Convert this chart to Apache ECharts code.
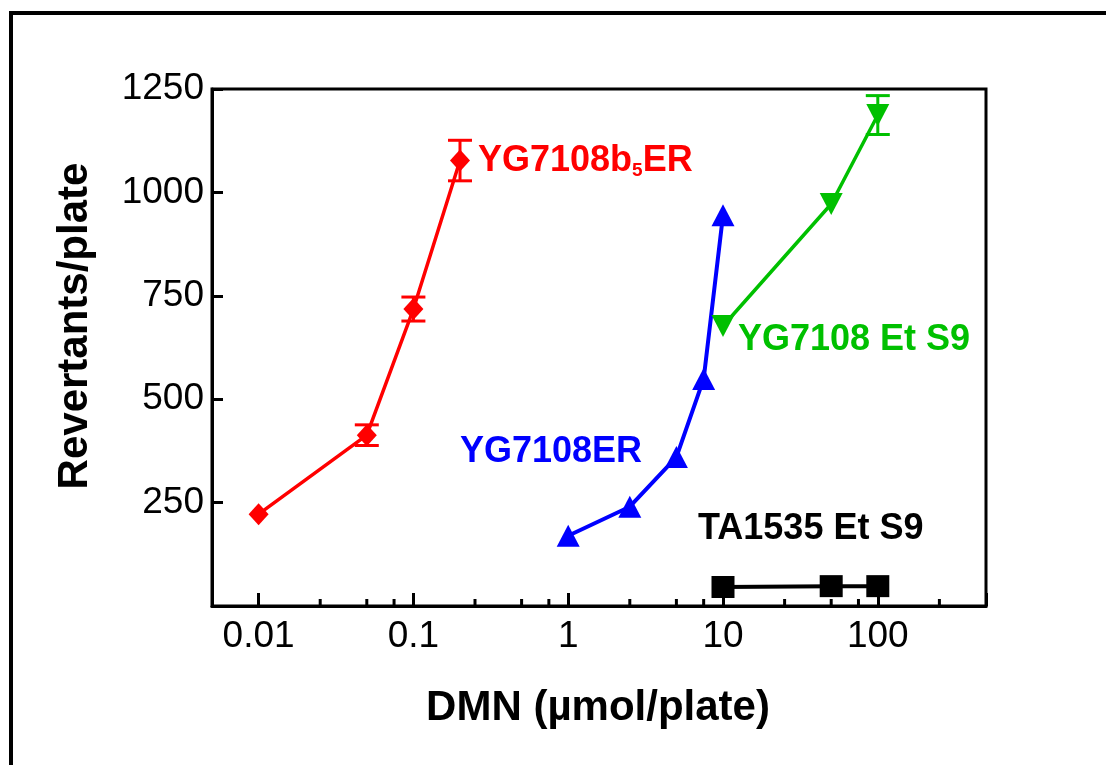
<!DOCTYPE html>
<html>
<head>
<meta charset="utf-8">
<script src="https://cdn.jsdelivr.net/npm/echarts@6/dist/echarts.min.js"></script>
<style>
html,body{margin:0;padding:0;background:#fff;}
#c{width:1106px;height:765px;}
</style>
</head>
<body>
<div id="c"></div>
<script>
// ---- data ----
const redX = [0.01, 0.05, 0.1, 0.2];
const redY = [222, 413, 718, 1077];
const redErr = [0, 25, 29, 49];

const blueX = [1, 2.5, 5, 7.5, 10];
const blueY = [170, 240, 360, 549, 945];

const greenX = [10, 50, 100];
const greenY = [677, 972, 1187];
const greenErr = [0, 0, 47];

const blackX = [10, 50, 100];
const blackY = [46, 48, 48];

const minorTicks = [0.025, 0.05, 0.075, 0.25, 0.5, 0.75, 2.5, 5, 7.5, 25, 50, 75, 250];
const yTicks = [250, 500, 750, 1000, 1250];

const FONT = 'Liberation Sans, Arial, Helvetica, sans-serif';

function pairs(xs, ys) { return xs.map((x, i) => [x, ys[i]]); }
function errData(xs, ys, es) {
  const out = [];
  xs.forEach((x, i) => { if (es[i] > 0) out.push([x, ys[i] - es[i], ys[i] + es[i]]); });
  return out;
}
function errSeries(data, color) {
  return {
    type: 'custom',
    data: data,
    z: 3,
    renderItem: function (params, api) {
      const x = api.value(0);
      const lo = api.coord([x, api.value(1)]);
      const hi = api.coord([x, api.value(2)]);
      const hw = 12;
      const st = { stroke: color, lineWidth: 3 };
      return {
        type: 'group',
        children: [
          { type: 'line', shape: { x1: lo[0], y1: lo[1], x2: hi[0], y2: hi[1] }, style: st },
          { type: 'line', shape: { x1: lo[0] - hw, y1: lo[1], x2: lo[0] + hw, y2: lo[1] }, style: st },
          { type: 'line', shape: { x1: hi[0] - hw, y1: hi[1], x2: hi[0] + hw, y2: hi[1] }, style: st }
        ]
      };
    }
  };
}

const chart = echarts.init(document.getElementById('c'), null, { renderer: 'canvas' });

const option = {
  animation: false,
  backgroundColor: '#fff',
  grid: {
    left: 212, top: 89, width: 774, height: 517,
    show: true, borderColor: '#000', borderWidth: 3, backgroundColor: 'transparent'
  },
  xAxis: {
    type: 'log', logBase: 10, min: 0.005, max: 500,
    axisLine: { lineStyle: { color: '#000', width: 3 } },
    axisTick: { inside: true, length: 13, lineStyle: { color: '#000', width: 3 } },
    splitLine: { show: false },
    axisLabel: {
      color: '#000', fontFamily: FONT, fontSize: 37, margin: 12,
      formatter: function (v) {
        const l = Math.log10(v);
        if (Math.abs(l - Math.round(l)) > 1e-6) return '';
        const p = Math.round(l);
        return p < 0 ? (Math.pow(10, p)).toFixed(-p) : String(Math.pow(10, p));
      }
    }
  },
  yAxis: {
    type: 'value', min: 0, max: 1250, interval: 250,
    axisLine: { show: true, lineStyle: { color: '#000', width: 3 } },
    axisTick: { show: true, inside: true, length: 11, lineStyle: { color: '#000', width: 3 } },
    splitLine: { show: false },
    axisLabel: {
      color: '#000', fontFamily: FONT, fontSize: 37, margin: 8,
      formatter: function (v) { return yTicks.indexOf(v) >= 0 ? String(v) : ''; }
    }
  },
  series: [
    {
      type: 'custom',
      data: minorTicks.map(v => [v, 0]),
      silent: true,
      renderItem: function (params, api) {
        const p = api.coord([api.value(0), 0]);
        return { type: 'line', shape: { x1: p[0], y1: p[1], x2: p[0], y2: p[1] - 7 }, style: { stroke: '#000', lineWidth: 3 } };
      }
    },
    {
      name: 'YG7108b5ER', type: 'line', data: pairs(redX, redY),
      symbol: 'diamond', symbolSize: [20, 22],
      lineStyle: { color: '#ff0000', width: 3.5 }, itemStyle: { color: '#ff0000' }, z: 4
    },
    errSeries(errData(redX, redY, redErr), '#ff0000'),
    {
      name: 'YG7108ER', type: 'line', data: pairs(blueX, blueY),
      symbol: 'triangle', symbolSize: [23, 22],
      lineStyle: { color: '#0000ff', width: 4 }, itemStyle: { color: '#0000ff' }, z: 4
    },
    {
      name: 'YG7108 Et S9', type: 'line', data: pairs(greenX, greenY),
      symbol: 'triangle', symbolRotate: 180, symbolSize: [23, 22],
      lineStyle: { color: '#00c000', width: 3.5 }, itemStyle: { color: '#00c000' }, z: 5
    },
    errSeries(errData(greenX, greenY, greenErr), '#00c000'),
    {
      name: 'TA1535 Et S9', type: 'line', data: pairs(blackX, blackY),
      symbol: 'rect', symbolSize: [23, 22],
      lineStyle: { color: '#000', width: 4 }, itemStyle: { color: '#000' }, z: 4
    }
  ],
  graphic: [
    { type: 'rect', shape: { x: 11, y: 13, width: 1300, height: 1000 }, style: { fill: 'none', stroke: '#000', lineWidth: 4 }, silent: true },
    { type: 'text', x: 75, y: 326, rotation: Math.PI / 2,
      style: { text: 'Revertants/plate', fill: '#000', font: 'bold 42px ' + FONT, textAlign: 'center', textVerticalAlign: 'middle' } },
    { type: 'text', x: 598, y: 708,
      style: { text: 'DMN (µmol/plate)', fill: '#000', font: 'bold 42px ' + FONT, textAlign: 'center', textVerticalAlign: 'middle' } },
    { type: 'text', x: 478, y: 142,
      style: {
        text: '{a|YG7108b}{s|5}{a|ER}',
        rich: {
          a: { fill: '#ff0000', fontFamily: FONT, fontWeight: 'bold', fontSize: 36, lineHeight: 38 },
          s: { fill: '#ff0000', fontFamily: FONT, fontWeight: 'bold', fontSize: 19, lineHeight: 20, verticalAlign: 'bottom' }
        }
      } },
    { type: 'text', x: 460, y: 452,
      style: { text: 'YG7108ER', fill: '#0000ff', font: 'bold 36px ' + FONT, textAlign: 'left', textVerticalAlign: 'middle' } },
    { type: 'text', x: 738, y: 340,
      style: { text: 'YG7108 Et S9', fill: '#00c000', font: 'bold 36px ' + FONT, textAlign: 'left', textVerticalAlign: 'middle' } },
    { type: 'text', x: 698, y: 529,
      style: { text: 'TA1535 Et S9', fill: '#000', font: 'bold 36px ' + FONT, textAlign: 'left', textVerticalAlign: 'middle' } }
  ]
};
chart.setOption(option);
</script>
</body>
</html>
